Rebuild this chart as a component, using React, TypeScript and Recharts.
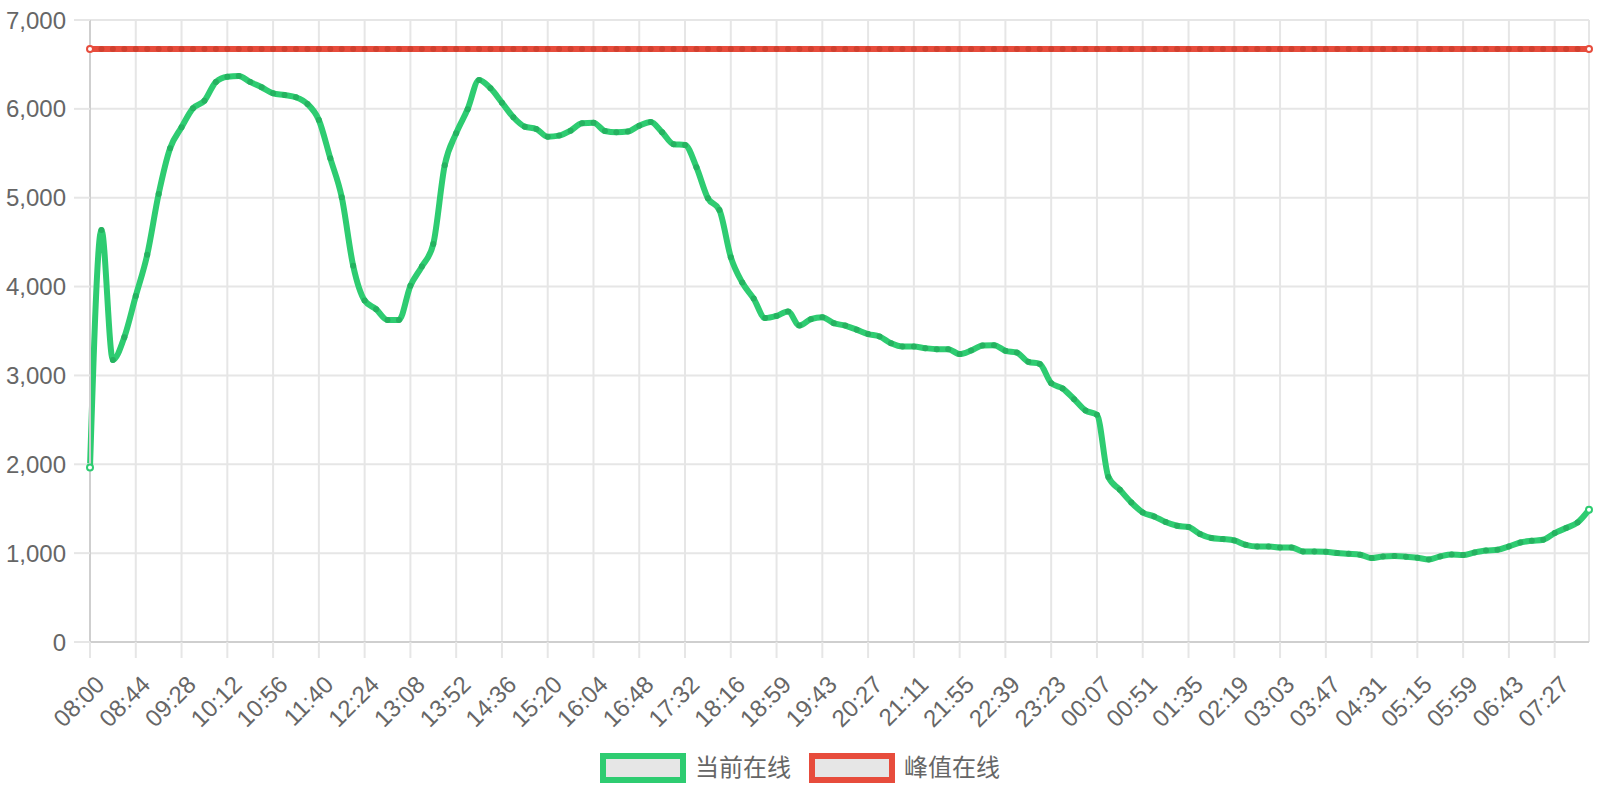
import { LineChart, Line, XAxis, YAxis, CartesianGrid, Legend } from 'recharts';

// every 4th sample is labelled on the axis (samples ~11 min apart)
const TICK_LABELS = [
  '08:00', '08:44', '09:28', '10:12', '10:56', '11:40', '12:24', '13:08', '13:52',
  '14:36', '15:20', '16:04', '16:48', '17:32', '18:16', '18:59', '19:43', '20:27',
  '21:11', '21:55', '22:39', '23:23', '00:07', '00:51', '01:35', '02:19', '03:03',
  '03:47', '04:31', '05:15', '05:59', '06:43', '07:27',
];

const CURRENT_ONLINE = [
  1965, 4638, 3175, 3431, 3895, 4357, 5043, 5557, 5793, 6007,
  6092, 6303, 6362, 6370, 6303, 6243, 6175, 6156, 6130, 6055,
  5875, 5444, 5006, 4233, 3843, 3746, 3625, 3625, 4008, 4225,
  4480, 5366, 5726, 5996, 6325, 6232, 6070, 5906, 5800, 5774,
  5687, 5699, 5755, 5838, 5845, 5751, 5737, 5744, 5811, 5853,
  5737, 5602, 5594, 5343, 4994, 4863, 4331, 4045, 3865, 3645,
  3670, 3719, 3561, 3633, 3656, 3588, 3561, 3515, 3465, 3438,
  3363, 3325, 3325, 3307, 3296, 3296, 3240, 3280, 3336, 3341,
  3277, 3258, 3153, 3130, 2913, 2853, 2733, 2605, 2557, 1856,
  1713, 1570, 1458, 1413, 1350, 1308, 1294, 1215, 1170, 1159,
  1143, 1094, 1075, 1075, 1064, 1064, 1019, 1019, 1016, 1001,
  993, 982, 945, 963, 967, 960, 948, 929, 963, 985,
  979, 1008, 1030, 1038, 1075, 1120, 1139, 1151, 1226, 1282,
  1345, 1488,
];

const PEAK_ONLINE = 6675;

const Y_TICKS = [0, 1000, 2000, 3000, 4000, 5000, 6000, 7000];

const GREEN = '#2ecc71';
const RED = '#e74c3c';
const FONT = '"Liberation Sans", "Helvetica Neue", Helvetica, Arial, "Noto Sans CJK SC", sans-serif';

const data = CURRENT_ONLINE.map((v, i) => ({ i, current: v, peak: PEAK_ONLINE }));
const xTicks = TICK_LABELS.map((_, k) => k * 4);
const lastIndex = data.length - 1;

function makeDot(color: string, dark: string) {
  return (props: any) => {
    const { cx, cy, index } = props;
    if (cx == null || cy == null) return <g key={`e-${index}`} />;
    const hollow = index === 0 || index === lastIndex;
    return (
      <circle
        key={`d-${index}`}
        cx={cx}
        cy={cy}
        r={3}
        fill={hollow ? '#fff' : dark}
        stroke={hollow ? color : 'none'}
        strokeWidth={hollow ? 2 : 0}
      />
    );
  };
}

function TimeTick({ x, y, payload }: any) {
  const ax = x + 10;
  const ay = y + 22;
  return (
    <text
      x={ax}
      y={ay}
      transform={`rotate(-45, ${ax}, ${ay})`}
      textAnchor="end"
      dominantBaseline="central"
      fill="#666"
      fontSize={24}
    >
      {TICK_LABELS[payload.value / 4]}
    </text>
  );
}

function LegendBox({ color, label, gap }: { color: string; label: string; gap: number }) {
  return (
    <div style={{ display: 'flex', alignItems: 'center', marginRight: gap }}>
      <span
        style={{
          display: 'inline-block',
          boxSizing: 'border-box',
          width: 86,
          height: 30,
          border: `6px solid ${color}`,
          background: '#e6e6e6',
          marginRight: 9,
        }}
      />
      <span style={{ fontSize: 24, color: '#666', lineHeight: '30px' }}>{label}</span>
    </div>
  );
}

function ChartLegend() {
  return (
    <div
      style={{
        height: 58,
        boxSizing: 'border-box',
        paddingTop: 11,
        paddingLeft: 0,
        display: 'flex',
        justifyContent: 'center',
        alignItems: 'flex-start',
        fontFamily: FONT,
      }}
    >
      <LegendBox color={GREEN} label="当前在线" gap={18} />
      <LegendBox color={RED} label="峰值在线" gap={0} />
    </div>
  );
}

export default function App() {
  return (
    <div style={{ position: 'fixed', left: 0, top: 0, width: 1600, height: 800, background: '#fff', fontFamily: FONT }}>
      <LineChart width={1600} height={800} data={data} margin={{ top: 20, right: 11, left: 0, bottom: 0 }}>
        <CartesianGrid stroke="#e6e6e6" strokeWidth={2} />
        <XAxis
          dataKey="i"
          type="number"
          domain={[0, lastIndex]}
          ticks={xTicks}
          interval={0}
          height={100}
          tickSize={16}
          tickMargin={0}
          tickLine={{ stroke: '#e6e6e6', strokeWidth: 2 }}
          axisLine={{ stroke: '#cfcfcf', strokeWidth: 2 }}
          tick={<TimeTick />}
        />
        <YAxis
          domain={[0, 7000]}
          ticks={Y_TICKS}
          interval={0}
          width={90}
          tickSize={16}
          tickMargin={8}
          tickLine={{ stroke: '#e6e6e6', strokeWidth: 2 }}
          axisLine={{ stroke: '#cfcfcf', strokeWidth: 2 }}
          tick={{ fill: '#666', fontSize: 24 }}
          tickFormatter={(v: number) => v.toLocaleString('en-US')}
        />
        <Legend verticalAlign="bottom" height={58} content={() => <ChartLegend />} wrapperStyle={{ left: 0, width: 1600 }} />
        <Line
          type="monotone"
          dataKey="peak"
          stroke={RED}
          strokeWidth={6}
          dot={makeDot(RED, '#d0402f')}
          activeDot={false}
          isAnimationActive={false}
        />
        <Line
          type="monotone"
          dataKey="current"
          stroke={GREEN}
          strokeWidth={6}
          strokeLinejoin="round"
          dot={makeDot(GREEN, '#25b260')}
          activeDot={false}
          isAnimationActive={false}
        />
      </LineChart>
    </div>
  );
}
